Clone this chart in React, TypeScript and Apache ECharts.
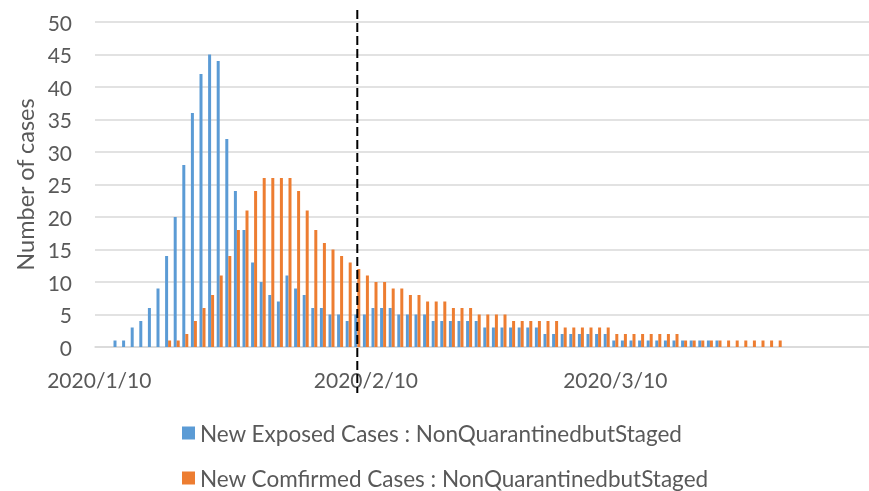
import { useEffect, useRef } from 'react';
import * as echarts from 'echarts';

// Daily categories: 2020/1/10 .. 2020/4/9
const firstDay = { y: 2020, m: 1, d: 10 };
const dayCount = 90;
const tickLabels = ['2020/1/10', '2020/2/10', '2020/3/10'];
const dividerDate = '2020/2/9';

const seriesNames = [
  'New Exposed Cases : NonQuarantinedbutStaged',
  'New Comfirmed Cases : NonQuarantinedbutStaged',
];

const exposedCases = [
  0, 0, 1, 1, 3, 4, 6, 9, 14, 20, 28, 36, 42, 45, 44,
  32, 24, 18, 13, 10, 8, 7, 11, 9, 8, 6, 6, 5, 5, 4,
  5, 5, 6, 6, 6, 5, 5, 5, 5, 4, 4, 4, 4, 4, 4,
  3, 3, 3, 3, 3, 3, 3, 2, 2, 2, 2, 2, 2, 2, 2,
  1, 1, 1, 1, 1, 1, 1, 1, 1, 1, 1, 1, 1,
  0, 0, 0, 0, 0, 0, 0, 0, 0, 0, 0, 0, 0, 0, 0, 0, 0,
];

const confirmedCases = [
  0, 0, 0, 0, 0, 0, 0, 0,
  1, 1, 2, 4, 6, 8, 11, 14, 18, 21, 24, 26, 26, 26, 26,
  24, 21, 18, 16, 15, 14, 13, 12, 11, 10, 10, 9, 9, 8, 8,
  7, 7, 7, 6, 6, 6, 5, 5, 5, 5, 4, 4, 4, 4, 4, 4,
  3, 3, 3, 3, 3, 3,
  2, 2, 2, 2, 2, 2, 2, 2,
  1, 1, 1, 1, 1, 1, 1, 1, 1, 1, 1, 1,
  0, 0, 0, 0, 0, 0, 0, 0, 0, 0,
];

function buildDays(): string[] {
  const out: string[] = [];
  const base = new Date(firstDay.y, firstDay.m - 1, firstDay.d);
  for (let i = 0; i < dayCount; i++) {
    const dt = new Date(base.getFullYear(), base.getMonth(), base.getDate() + i);
    out.push(`${dt.getFullYear()}/${dt.getMonth() + 1}/${dt.getDate()}`);
  }
  return out;
}

const FONT = 'Lato';
const TEXT = '#595959';
const GRID = '#d9d9d9';

export default function App() {
  const ref = useRef<HTMLDivElement>(null);
  useEffect(() => {
    if (!ref.current) return;
    const chart = echarts.init(ref.current, null, { renderer: 'svg' });
    const days = buildDays();
    const showTick = (_i: number, v: string) => tickLabels.includes(v);
    const legendBase = {
      orient: 'horizontal',
      left: 182,
      padding: 0,
      itemWidth: 13,
      itemHeight: 13,
      icon: 'rect',
      textStyle: { color: TEXT, fontSize: 22.5, fontFamily: FONT, lineHeight: 24 },
    };
    chart.setOption({
      animation: false,
      textStyle: { fontFamily: FONT },
      grid: { left: 95, right: 0, top: 22, bottom: 144, containLabel: false },
      legend: [
        { ...legendBase, top: 421, data: [seriesNames[0]] },
        { ...legendBase, top: 466, data: [seriesNames[1]] },
      ],
      xAxis: {
        type: 'category',
        data: days,
        boundaryGap: true,
        axisLine: { lineStyle: { color: GRID, width: 1.5 } },
        axisTick: { interval: showTick, length: 6, lineStyle: { color: GRID, width: 1.5 } },
        axisLabel: {
          interval: showTick,
          color: TEXT,
          fontSize: 21,
          fontFamily: FONT,
          margin: 22,
        },
        splitLine: { show: false },
      },
      yAxis: {
        type: 'value',
        min: 0,
        max: 50,
        interval: 5,
        name: 'Number of cases',
        nameLocation: 'middle',
        nameRotate: 90,
        nameGap: 55,
        nameTextStyle: { color: TEXT, fontSize: 23.5, fontFamily: FONT },
        axisLine: { show: false },
        axisTick: { show: false },
        axisLabel: { color: TEXT, fontSize: 21, fontFamily: FONT, margin: 23 },
        splitLine: { lineStyle: { color: GRID, width: 1.5 } },
      },
      series: [
        {
          name: seriesNames[0],
          type: 'bar',
          data: exposedCases,
          barWidth: 3,
          barGap: '0%',
          itemStyle: { color: '#5B9BD5' },
        },
        {
          name: seriesNames[1],
          type: 'bar',
          data: confirmedCases,
          barWidth: 3,
          barGap: '0%',
          itemStyle: { color: '#ED7D31' },
        },
      ],
    });
    const px = chart.convertToPixel({ xAxisIndex: 0 }, dividerDate) as number;
    chart.setOption({
      graphic: [
        {
          type: 'line',
          shape: { x1: px, y1: 10, x2: px, y2: 393 },
          style: { stroke: '#000', lineWidth: 2, lineDash: [9, 4] },
          z: 100,
        },
      ],
    });
    return () => chart.dispose();
  }, []);
  return (
    <div
      ref={ref}
      style={{ position: 'fixed', left: 0, top: 0, width: 869, height: 491 }}
    />
  );
}
